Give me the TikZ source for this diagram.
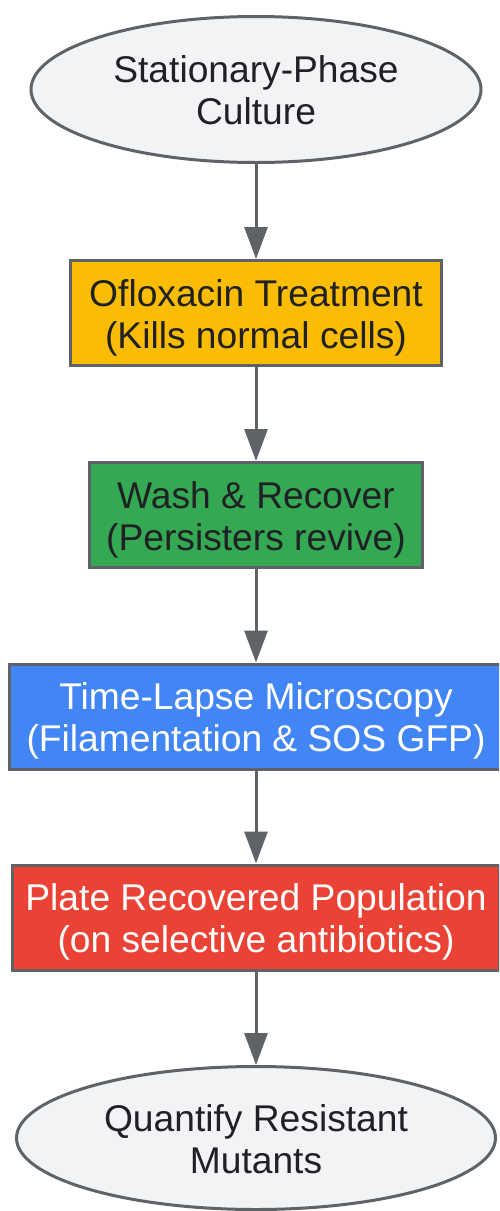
\documentclass[tikz,border=0pt]{standalone}
\usepackage{fontspec}
\setmainfont{Liberation Sans}
\usetikzlibrary{shapes.geometric,arrows.meta}
\definecolor{edgegray}{HTML}{5F6368}
\definecolor{termfill}{HTML}{F1F3F4}
\definecolor{ylw}{HTML}{FBBC04}
\definecolor{grn}{HTML}{34A853}
\definecolor{blu}{HTML}{4285F4}
\definecolor{rd}{HTML}{EA4335}
\definecolor{ink}{HTML}{202124}
\newcommand\twoln[2]{\raisebox{-6pt}[\height][\depth]{\begin{tabular}{@{}c@{}}#1\\#2\end{tabular}}}
\begin{document}
\begin{tikzpicture}[x=1pt,y=-1pt,
  font=\fontsize{37.2}{42}\selectfont,
  termnode/.style={ellipse, draw=edgegray, line width=3pt, fill=termfill, text=ink, inner sep=0pt},
  stepbox/.style={rectangle, draw=edgegray, line width=3pt, inner sep=0pt, minimum height=105pt},
  flow/.style={draw=edgegray, line width=3pt, -{Triangle[length=32pt,width=23pt]}}]
\path[use as bounding box, clip] (0,0) rectangle (499,1211);
\node[termnode, minimum width=450pt, minimum height=146pt] (n1) at (256,89.5) {\twoln{Stationary-Phase}{Culture}};
\node[stepbox, fill=ylw, text=ink, minimum width=371pt] (n2) at (256,313) {\twoln{Ofloxacin Treatment}{(Kills normal cells)}};
\node[stepbox, fill=grn, text=ink, minimum width=333pt] (n3) at (256,515) {\twoln{Wash \& Recover}{(Persisters revive)}};
\node[stepbox, fill=blu, text=white, minimum width=493pt] (n4) at (256,716.5) {\twoln{Time-Lapse Microscopy}{(Filamentation \& SOS GFP)}};
\node[stepbox, fill=rd, text=white, minimum width=487pt] (n5) at (256,917.5) {\twoln{Plate Recovered Population}{(on selective antibiotics)}};
\node[termnode, minimum width=479pt, minimum height=143pt] (n6) at (256,1138) {\twoln{Quantify Resistant}{Mutants}};
\draw[flow] (n1) -- (n2);
\draw[flow] (n2) -- (n3);
\draw[flow] (n3) -- (n4);
\draw[flow] (n4) -- (n5);
\draw[flow] (n5) -- (n6);
\end{tikzpicture}
\end{document}
